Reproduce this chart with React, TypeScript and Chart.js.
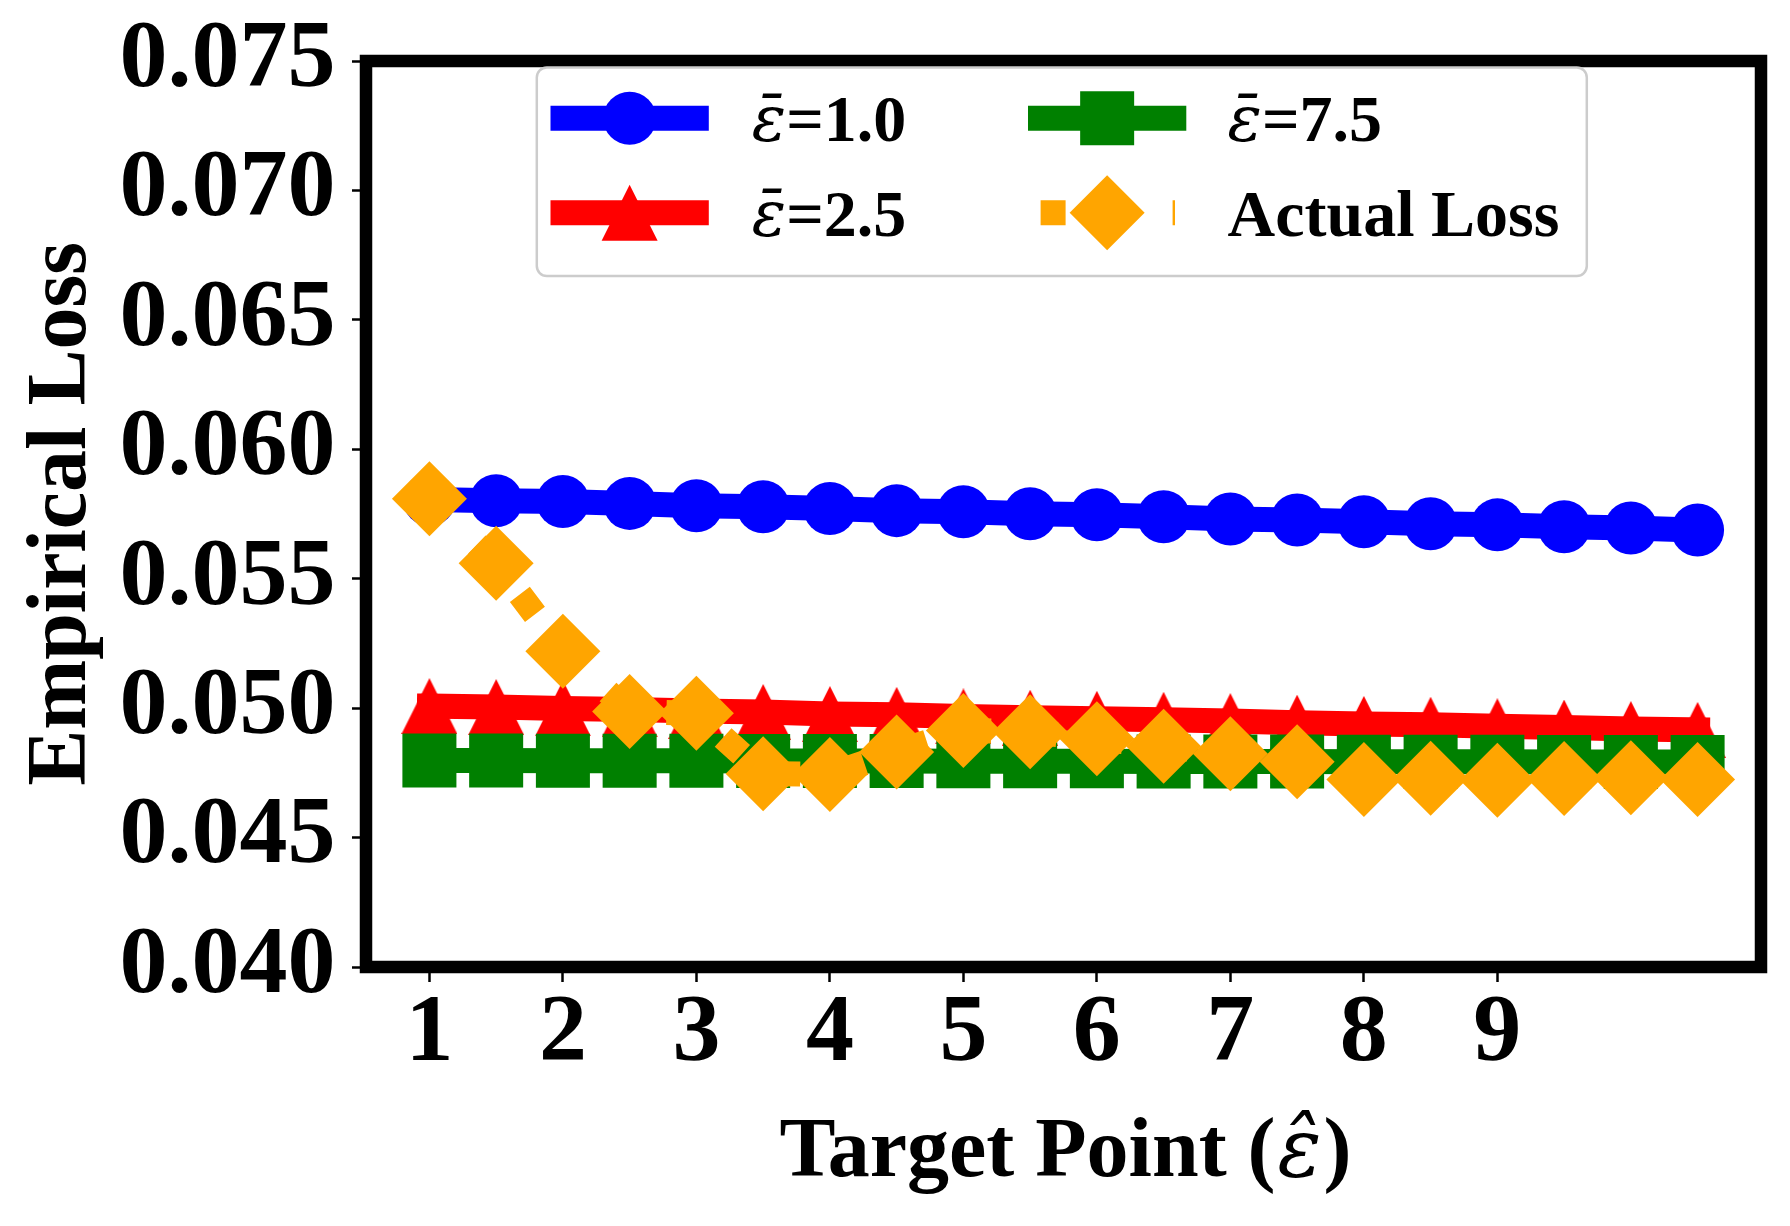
import React, { useEffect, useRef } from "react";
import { Chart, registerables } from "chart.js";

Chart.register(...registerables);

// ---- data ----
const xValues = [1, 1.5, 2, 2.5, 3, 3.5, 4, 4.5, 5, 5.5, 6, 6.5, 7, 7.5, 8, 8.5, 9, 9.5, 10, 10.5];
const eps10 = [0.05806, 0.05801, 0.05798, 0.05791, 0.05782, 0.05778, 0.05771, 0.05763, 0.05759, 0.05751,
  0.05747, 0.05739, 0.05731, 0.05727, 0.0572, 0.05712, 0.05708, 0.05701, 0.05696, 0.05688];
const eps25 = [0.05008, 0.05004, 0.04999, 0.04995, 0.04989, 0.04985, 0.04977, 0.04974, 0.04968, 0.04963,
  0.04959, 0.04955, 0.0495, 0.04944, 0.04939, 0.04936, 0.0493, 0.04925, 0.04919, 0.04916];
const eps75 = [0.04798, 0.04798, 0.04797, 0.04797, 0.04797, 0.04796, 0.04796, 0.04796, 0.04795, 0.04795,
  0.04795, 0.04794, 0.04794, 0.04794, 0.04793, 0.04793, 0.04793, 0.04792, 0.04792, 0.04792];
const actualLoss = [0.05809, 0.0556, 0.0522, 0.04987, 0.0498, 0.04747, 0.04744, 0.04831, 0.04914, 0.04909,
  0.04882, 0.04853, 0.04824, 0.04793, 0.04724, 0.04729, 0.04721, 0.04728, 0.04731, 0.04724];
const xTicks = [1, 2, 3, 4, 5, 6, 7, 8, 9];
const yTicks = [0.04, 0.045, 0.05, 0.055, 0.06, 0.065, 0.07, 0.075];
const legendLabels = ["\u03B5\u0304=1.0", "\u03B5\u0304=2.5", "\u03B5\u0304=7.5", "Actual Loss"];
const xTitle = "Target Point (\u03B5\u0302)";
const yTitle = "Empirical Loss";

const SERIF = "'Liberation Serif', 'Times New Roman', serif";
const BLUE = "#0000ff";
const RED = "#ff0000";
const GREEN = "#008000";
const ORANGE = "#ffa500";
const LW = 25;
const DOT = [25, 41];

function makeTriangle(color: string, s: number) {
  const c = document.createElement("canvas");
  c.width = s;
  c.height = s;
  const g = c.getContext("2d")!;
  g.fillStyle = color;
  g.beginPath();
  g.moveTo(s / 2, 0);
  g.lineTo(s, s);
  g.lineTo(0, s);
  g.closePath();
  g.fill();
  return c;
}

function drawMarker(ctx: CanvasRenderingContext2D, kind: string, x: number, y: number, color: string) {
  ctx.fillStyle = color;
  ctx.beginPath();
  if (kind === "circle") {
    ctx.arc(x, y, 26.5, 0, Math.PI * 2);
  } else if (kind === "triangle") {
    ctx.moveTo(x, y - 28);
    ctx.lineTo(x + 28, y + 28);
    ctx.lineTo(x - 28, y + 28);
    ctx.closePath();
  } else if (kind === "square") {
    ctx.rect(x - 27, y - 27, 54, 54);
  } else {
    ctx.moveTo(x, y - 37.5);
    ctx.lineTo(x + 37.5, y);
    ctx.lineTo(x, y + 37.5);
    ctx.lineTo(x - 37.5, y);
    ctx.closePath();
  }
  ctx.fill();
}

function drawLegend(ctx: CanvasRenderingContext2D, a: any) {
  const bx = a.left + 170.8;
  const by = a.top + 6.4;
  const bw = 1050;
  const bh = 208.6;
  ctx.save();
  ctx.beginPath();
  (ctx as any).roundRect(bx, by, bw, bh, 10);
  ctx.fillStyle = "rgba(255,255,255,0.8)";
  ctx.fill();
  ctx.lineWidth = 2.5;
  ctx.strokeStyle = "#cccccc";
  ctx.stroke();

  const entries = [
    { col: 0, row: 0, color: BLUE, marker: "circle", dotted: false, label: legendLabels[0] },
    { col: 0, row: 1, color: RED, marker: "triangle", dotted: false, label: legendLabels[1] },
    { col: 1, row: 0, color: GREEN, marker: "square", dotted: false, label: legendLabels[2] },
    { col: 1, row: 1, color: ORANGE, marker: "diamond", dotted: true, label: legendLabels[3] },
  ];
  for (const e of entries) {
    const hx0 = bx + (e.col === 0 ? 13.7 : 491.2);
    const hx1 = hx0 + 158.3;
    const cy = by + (e.row === 0 ? 50.9 : 145.4);
    const base = by + (e.row === 0 ? 73.6 : 168.6);
    const tx = bx + (e.col === 0 ? 215 : 690.8);
    ctx.save();
    ctx.strokeStyle = e.color;
    ctx.lineWidth = LW;
    ctx.lineCap = "butt";
    ctx.beginPath();
    if (e.dotted) {
      ctx.setLineDash(DOT);
      ctx.lineDashOffset = 53.4;
      ctx.moveTo(hx0, cy);
      ctx.lineTo(hx0 + 147, cy);
    } else {
      ctx.moveTo(hx0, cy);
      ctx.lineTo(hx1, cy);
    }
    ctx.stroke();
    ctx.restore();
    drawMarker(ctx, e.marker, (hx0 + hx1) / 2, cy, e.color);

    ctx.fillStyle = "#000";
    ctx.textAlign = "left";
    ctx.textBaseline = "alphabetic";
    let x = tx;
    let rest = e.label;
    if (rest.startsWith("\u03B5\u0304")) {
      ctx.font = "italic 64px 'DejaVu Serif'";
      ctx.fillText("\u03B5\u0304", x, base);
      x += ctx.measureText("\u03B5").width;
      rest = rest.slice(2);
    }
    ctx.font = `bold 66px ${SERIF}`;
    ctx.fillText(rest, x, base);
  }
  ctx.restore();
}

function drawXTitle(ctx: CanvasRenderingContext2D, a: any) {
  const f1 = `bold 84px ${SERIF}`;
  const f2 = "italic 82px 'DejaVu Serif'";
  const prefix = xTitle.slice(0, xTitle.length - 3);
  const eps = xTitle.slice(xTitle.length - 3, xTitle.length - 1);
  const suffix = xTitle.slice(xTitle.length - 1);
  ctx.save();
  ctx.fillStyle = "#000";
  ctx.textAlign = "left";
  ctx.textBaseline = "alphabetic";
  ctx.font = f1;
  const w1 = ctx.measureText(prefix).width;
  const w3 = ctx.measureText(suffix).width;
  ctx.font = f2;
  const w2 = ctx.measureText(eps.charAt(0)).width + 4;
  const total = w1 + w2 + w3;
  const cx = (a.left + a.right) / 2 + 2;
  const base = a.bottom + 209;
  let x = cx - total / 2;
  ctx.font = f1;
  ctx.fillText(prefix, x, base);
  x += w1;
  ctx.font = f2;
  ctx.fillText(eps, x + 2, base);
  x += w2;
  ctx.font = f1;
  ctx.fillText(suffix, x, base);
  ctx.restore();
}

const frameLegendPlugin = {
  id: "frameLegend",
  afterDatasetsDraw(chart: any) {
    const { ctx, chartArea: a } = chart;
    ctx.save();
    ctx.strokeStyle = "#000";
    ctx.lineWidth = 12.5;
    ctx.lineJoin = "miter";
    ctx.strokeRect(a.left, a.top, a.right - a.left, a.bottom - a.top);
    ctx.restore();
    drawLegend(ctx, a);
    drawXTitle(ctx, a);
  },
};

export default function App() {
  const ref = useRef<HTMLCanvasElement | null>(null);

  useEffect(() => {
    const canvas = ref.current!;
    const tri = makeTriangle(RED, 56);
    const pts = (ys: number[]) => xValues.map((x, i) => ({ x, y: ys[i] }));
    const common = {
      borderWidth: LW,
      pointBorderWidth: 0,
      borderJoinStyle: "round" as const,
      tension: 0,
      clip: false as any,
    };
    const chart = new Chart(canvas, {
      type: "line",
      data: {
        datasets: [
          {
            ...common,
            label: legendLabels[0],
            data: pts(eps10),
            borderColor: BLUE,
            backgroundColor: BLUE,
            pointBackgroundColor: BLUE,
            pointBorderColor: BLUE,
            pointStyle: "circle",
            pointRadius: 26.5,
            borderCapStyle: "square",
            order: 3,
          },
          {
            ...common,
            label: legendLabels[1],
            data: pts(eps25),
            borderColor: RED,
            backgroundColor: RED,
            pointBackgroundColor: RED,
            pointBorderColor: RED,
            pointStyle: tri as any,
            pointRadius: 28,
            borderCapStyle: "square",
            order: 2,
          },
          {
            ...common,
            label: legendLabels[2],
            data: pts(eps75),
            borderColor: GREEN,
            backgroundColor: GREEN,
            pointBackgroundColor: GREEN,
            pointBorderColor: GREEN,
            pointStyle: "rect",
            pointRadius: 38.2,
            borderCapStyle: "square",
            order: 1,
          },
          {
            ...common,
            label: legendLabels[3],
            data: pts(actualLoss),
            borderColor: ORANGE,
            backgroundColor: ORANGE,
            pointBackgroundColor: ORANGE,
            pointBorderColor: ORANGE,
            pointStyle: "rectRot",
            pointRadius: 37.5,
            borderDash: DOT,
            borderCapStyle: "butt",
            order: 0,
          },
        ],
      },
      options: {
        responsive: false,
        animation: false,
        devicePixelRatio: 1,
        events: [],
        layout: { autoPadding: false, padding: { left: 0, top: 53, right: 21, bottom: 0 } },
        plugins: { legend: { display: false }, tooltip: { enabled: false } },
        scales: {
          x: {
            type: "linear",
            min: 0.525,
            max: 10.975,
            afterBuildTicks: (s: any) => {
              s.ticks = xTicks.map((v) => ({ value: v }));
            },
            afterFit: (s: any) => {
              s.height = 251;
            },
            border: { display: false },
            grid: { drawOnChartArea: false, tickLength: 15, tickWidth: 2.5, tickColor: "#000" },
            ticks: {
              color: "#000",
              font: { family: SERIF, weight: "bold", size: 96, lineHeight: 1 },
              padding: 5,
              maxRotation: 0,
              autoSkip: false,
              callback: (v: any) => String(v),
            },
            title: { display: false },
          },
          y: {
            type: "linear",
            min: 0.04,
            max: 0.075,
            afterBuildTicks: (s: any) => {
              s.ticks = yTicks.map((v) => ({ value: v }));
            },
            afterFit: (s: any) => {
              s.width = 358;
            },
            border: { display: false },
            grid: { drawOnChartArea: false, tickLength: 14, tickWidth: 2.5, tickColor: "#000" },
            ticks: {
              color: "#000",
              font: { family: SERIF, weight: "bold", size: 96, lineHeight: 0.7 },
              padding: 16.5,
              autoSkip: false,
              callback: (v: any) => Number(v).toFixed(3),
            },
            title: {
              display: true,
              text: yTitle,
              color: "#000",
              font: { family: SERIF, weight: "bold", size: 84, lineHeight: 1 },
              padding: { top: 13, bottom: 0 },
            },
          },
        },
      },
      plugins: [frameLegendPlugin],
    });
    return () => chart.destroy();
  }, []);

  return (
    <div style={{ width: 1774, height: 1210 }}>
      <canvas ref={ref} width={1774} height={1210} style={{ display: "block" }} />
    </div>
  );
}
